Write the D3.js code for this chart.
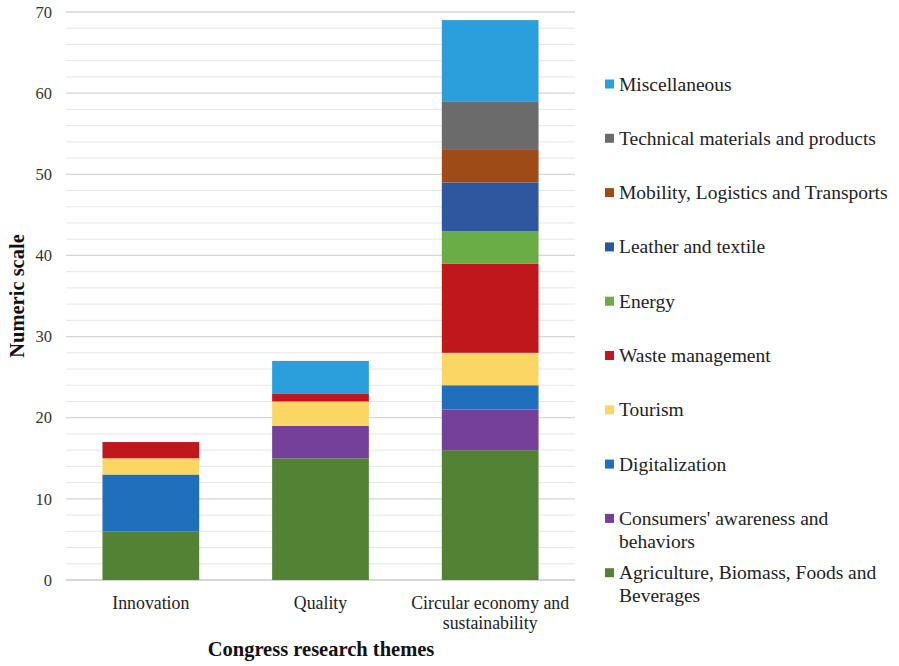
<!DOCTYPE html>
<html>
<head>
<meta charset="utf-8">
<script src="https://cdn.jsdelivr.net/npm/d3@7"></script>
<style>
  html, body { margin: 0; padding: 0; background: #fff; }
</style>
</head>
<body>
<svg id="chart" width="899" height="666" font-family="Liberation Serif"></svg>
<script>
// Research themes on the x axis
const themes = ["Innovation", "Quality", "Circular economy and sustainability"];
const themeLines = [["Innovation"], ["Quality"], ["Circular economy and", "sustainability"]];

// Topic series, stacked bottom to top
const topics = [
  "Agriculture, Biomass, Foods and Beverages",
  "Consumers' awareness and behaviors",
  "Digitalization",
  "Tourism",
  "Waste management",
  "Energy",
  "Leather and textile",
  "Mobility, Logistics and Transports",
  "Technical materials and products",
  "Miscellaneous"
];
const topicColors = ["#548235", "#74409a", "#1f6fbd", "#fcd665", "#c0171c",
                     "#6aac45", "#2e57a0", "#9f4b17", "#6b6b6b", "#2b9fdc"];

// Counts per theme (Innovation, Quality, Circular economy)
const agriculture    = [6, 15, 16];
const consumers      = [0, 4, 5];
const digitalization = [7, 0, 3];
const tourism        = [2, 3, 4];
const waste          = [2, 1, 11];
const energy         = [0, 0, 4];
const leather        = [0, 0, 6];
const mobility       = [0, 0, 4];
const technical      = [0, 0, 6];
const miscellaneous  = [0, 4, 10];

const yTicks = [0, 10, 20, 30, 40, 50, 60, 70];

const seriesValues = [agriculture, consumers, digitalization, tourism, waste,
                      energy, leather, mobility, technical, miscellaneous];
const rows = themes.map((t, i) => {
  const r = { theme: t };
  topics.forEach((k, j) => { r[k] = seriesValues[j][i]; });
  return r;
});

const FONT = "Liberation Serif";
const svg = d3.select("#chart");
const margin = { left: 66, right: 324, top: 12, bottom: 86 };
const W = 899, H = 666;
const plotW = W - margin.left - margin.right;
const plotH = H - margin.top - margin.bottom;

const x = d3.scaleBand().domain(themes).range([margin.left, margin.left + plotW])
  .paddingInner(0.43).paddingOuter(0.215);
const y = d3.scaleLinear().domain([0, 70]).range([margin.top + plotH, margin.top]);

// minor gridlines every 2, major every 10
const g = svg.append("g");
g.selectAll("line.minor").data(d3.range(2, 70, 2).filter(v => v % 10 !== 0))
  .join("line").attr("class", "minor")
  .attr("x1", margin.left).attr("x2", margin.left + plotW)
  .attr("y1", d => y(d)).attr("y2", d => y(d))
  .attr("stroke", "#e6e6e6").attr("stroke-width", 1);
g.selectAll("line.major").data(yTicks)
  .join("line").attr("class", "major")
  .attr("x1", margin.left).attr("x2", margin.left + plotW)
  .attr("y1", d => y(d)).attr("y2", d => y(d))
  .attr("stroke", d => d === 0 ? "#c8c8c8" : "#d6d6d6").attr("stroke-width", 1.3);

// y axis labels
const yAxis = d3.axisLeft(y).tickValues(yTicks).tickSize(0).tickPadding(14);
const ya = svg.append("g").attr("transform", `translate(${margin.left},0)`).call(yAxis)
  .attr("font-family", FONT).attr("font-size", 16.5);
ya.select(".domain").remove();
ya.selectAll("text").attr("fill", "#333");

// stacked bars
const stack = d3.stack().keys(topics);
const layers = stack(rows);
svg.append("g").selectAll("g").data(layers).join("g")
  .attr("fill", (d, i) => topicColors[i])
  .selectAll("rect").data(d => d.filter(p => p[1] > p[0]))
  .join("rect")
  .attr("x", d => x(d.data.theme))
  .attr("width", x.bandwidth())
  .attr("y", d => y(d[1]))
  .attr("height", d => y(d[0]) - y(d[1]));

// x category labels
const xl = svg.append("g").attr("font-family", FONT);
themes.forEach((t, i) => {
  const txt = xl.append("text")
    .attr("x", x(t) + x.bandwidth() / 2)
    .attr("y", 609)
    .attr("text-anchor", "middle")
    .attr("font-size", 17.8).attr("fill", "#222");
  themeLines[i].forEach((ln, j) => {
    txt.append("tspan").attr("x", x(t) + x.bandwidth() / 2)
      .attr("dy", j === 0 ? 0 : 20).text(ln);
  });
});

// axis titles
svg.append("text").attr("x", 321).attr("y", 656).attr("text-anchor", "middle")
  .attr("font-family", FONT)
  .attr("font-weight", "bold").attr("font-size", 20.5).attr("fill", "#111")
  .text("Congress research themes");
svg.append("text").attr("transform", "translate(24,296) rotate(-90)")
  .attr("text-anchor", "middle")
  .attr("font-family", FONT)
  .attr("font-weight", "bold").attr("font-size", 20.5).attr("fill", "#111")
  .text("Numeric scale");

// legend, top item first
const legendLines = {
  "Consumers' awareness and behaviors": ["Consumers' awareness and", "behaviors"],
  "Agriculture, Biomass, Foods and Beverages": ["Agriculture, Biomass, Foods and", "Beverages"]
};
const legendOrder = topics.map((t, i) => ({ t, c: topicColors[i] })).reverse();
const lg = svg.append("g").attr("font-family", FONT);
legendOrder.forEach((d, i) => {
  const cy = 84 + i * 54.3;
  lg.append("rect").attr("x", 605).attr("y", cy - 4.5).attr("width", 9).attr("height", 9)
    .attr("fill", d.c);
  const lines = legendLines[d.t] || [d.t];
  const txt = lg.append("text").attr("x", 619).attr("y", cy + 6.5)
    .attr("font-size", 19.5).attr("fill", "#222");
  lines.forEach((ln, j) => {
    txt.append("tspan").attr("x", 619).attr("dy", j === 0 ? 0 : 23).text(ln);
  });
});
</script>
</body>
</html>
